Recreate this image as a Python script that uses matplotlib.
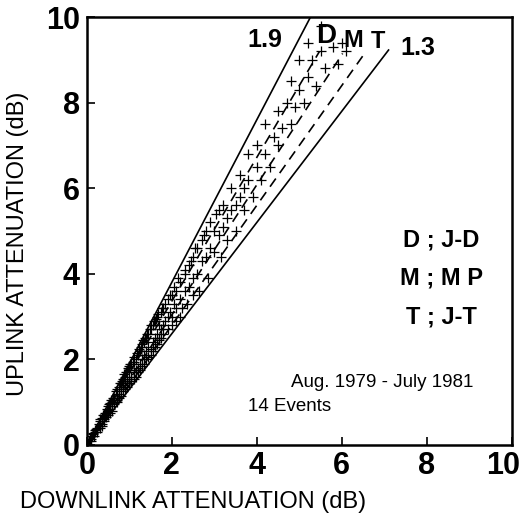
import numpy as np
import matplotlib.pyplot as plt
from matplotlib.transforms import ScaledTranslation

# downlink / uplink attenuation samples (dB)
down = [0.05, 0.1, 0.12, 0.15, 0.2, 0.22, 0.25, 0.3, 0.3, 0.35, 0.35, 0.4, 0.4, 0.45, 0.5, 0.5,
        0.55, 0.55, 0.6, 0.6, 0.65, 0.7, 0.7, 0.75, 0.75, 0.8, 0.8, 0.85, 0.85, 0.9, 0.9, 0.95,
        0.95, 1.0, 1.0, 1.0, 1.05, 1.05, 1.1, 1.1, 1.15, 1.15, 1.2, 1.2, 1.25, 1.25, 1.3, 1.3,
        1.35, 1.35, 1.4, 1.4, 1.45, 1.45, 1.5, 1.5, 1.55, 1.55, 1.6, 1.6, 1.65, 1.65, 1.7, 1.7,
        1.75, 1.75, 1.8, 1.8, 1.85, 1.9, 1.9, 1.95, 2.0, 2.0, 2.05, 2.1, 2.1, 2.2, 2.2, 2.25,
        2.3, 2.3, 2.4, 2.4, 2.5, 2.5, 2.6, 2.6, 2.7, 2.7, 2.8, 2.8, 2.9, 2.9, 3.0, 3.0,
        3.05, 3.1, 3.2, 3.2, 3.3, 3.3, 3.4, 3.4, 3.5, 3.5, 3.6, 3.6, 3.7, 3.7, 3.8, 3.8,
        3.9, 4.0, 4.0, 4.1, 4.2, 4.2, 4.3, 4.4, 4.5, 4.5, 4.6, 4.7, 4.8, 4.8, 4.9, 5.0,
        5.0, 5.1, 5.2, 5.2, 5.3, 5.4, 5.5, 5.5, 5.6, 5.8, 5.9, 6.0, 6.1,
        0.08, 0.1, 0.15, 0.18, 0.2, 0.25, 0.28, 0.3, 0.32, 0.35, 0.38, 0.4, 0.42, 0.45, 0.48,
        0.5, 0.52, 0.55, 0.58, 0.6, 0.62, 0.65, 0.68, 0.7, 0.72, 0.75, 0.78, 0.8, 0.82, 0.85,
        0.88, 0.9, 0.92, 0.95, 0.98, 1.0, 1.02, 1.05, 1.08, 1.1, 1.12, 1.15, 1.18, 1.2, 1.22,
        1.25, 1.28, 1.3, 1.32, 1.35, 1.38, 1.4, 1.42, 1.45, 1.48, 1.5, 1.52, 1.55, 1.58, 1.6,
        1.62, 1.65, 1.68, 1.7, 1.75, 1.78, 1.8, 1.85, 1.9, 1.95, 2.0, 2.05, 2.1, 2.15, 2.2,
        2.3, 2.35, 2.45, 2.5, 2.55, 2.65, 2.75, 2.85, 3.1, 3.15]
up = [0.1, 0.15, 0.22, 0.25, 0.3, 0.38, 0.4, 0.45, 0.55, 0.5, 0.62, 0.6, 0.7, 0.75, 0.8, 0.9,
      0.85, 0.98, 1.0, 0.9, 1.1, 1.05, 1.2, 1.2, 1.35, 1.3, 1.45, 1.4, 1.55, 1.4, 1.6, 1.5,
      1.7, 1.55, 1.75, 1.85, 1.6, 1.9, 1.7, 1.95, 1.75, 2.0, 1.8, 2.1, 1.9, 2.2, 2.0, 2.35,
      2.1, 2.4, 2.2, 2.5, 2.3, 2.6, 2.25, 2.7, 2.4, 2.8, 2.5, 2.9, 2.6, 3.0, 2.5, 2.8,
      2.7, 3.1, 2.8, 3.2, 2.9, 3.0, 3.4, 3.1, 3.0, 3.5, 3.3, 3.2, 3.6, 3.4, 3.8, 3.2,
      3.6, 4.0, 3.7, 4.2, 3.9, 4.4, 4.0, 4.6, 4.3, 4.8, 4.4, 5.0, 4.6, 5.2, 4.5, 5.0,
      5.4, 4.9, 5.1, 5.6, 5.3, 4.8, 5.5, 6.0, 5.6, 5.0, 5.8, 6.3, 5.5, 6.0, 6.2, 6.8,
      5.8, 6.5, 7.0, 6.2, 6.8, 7.5, 6.5, 7.2, 7.0, 7.8, 7.4, 8.0, 7.5, 8.5, 7.9, 8.3,
      9.0, 8.0, 8.6, 9.4, 9.0, 8.4, 9.2, 9.8, 8.8, 9.3, 8.9, 9.4, 9.2,
      0.14, 0.1, 0.27, 0.2, 0.36, 0.3, 0.5, 0.4, 0.6, 0.45, 0.7, 0.55, 0.75, 0.65, 0.85,
      0.7, 0.95, 0.75, 1.05, 0.8, 1.1, 0.95, 1.25, 1.0, 1.3, 1.1, 1.45, 1.15, 1.5, 1.25,
      1.65, 1.3, 1.7, 1.35, 1.8, 1.45, 1.9, 1.5, 1.95, 1.55, 2.05, 1.6, 2.15, 1.7, 2.25,
      1.75, 2.3, 1.85, 2.45, 1.9, 2.5, 2.0, 2.6, 2.05, 2.7, 2.1, 2.8, 2.2, 2.9, 2.3,
      2.95, 2.35, 3.05, 2.45, 2.5, 3.2, 2.6, 3.3, 2.7, 3.5, 2.8, 3.7, 2.9, 3.9, 3.0,
      4.1, 3.3, 4.3, 3.5, 4.6, 3.6, 4.9, 3.9, 5.5, 4.4]

# ratio lines: solid bounds and dashed model curves (D, M, T)
solid_slopes = [1.9, 1.3]
solid_xmax = [10 / 1.9, 7.1]
dashed_slopes = [1.68, 1.52, 1.40]
dashed_ymax = [9.2, 9.15, 9.1]

legend_lines = ["D ; J-D", "M ; M P", "T ; J-T"]

fig = plt.figure(figsize=(5.26, 5.18), dpi=100)
ax = fig.add_axes([0.165, 0.141, 0.808, 0.826])

for s, xm in zip(solid_slopes, solid_xmax):
    xs = np.array([0, xm])
    ax.plot(xs, s * xs, color='black', lw=1.2)
for s, ym in zip(dashed_slopes, dashed_ymax):
    xs = np.array([0, ym / s])
    ax.plot(xs, s * xs, color='black', lw=1.2, dashes=(6, 4))

ax.scatter(down, up, marker='+', s=45, color='black', linewidths=0.9)

ax.set_xlim(0, 10)
ax.set_ylim(0, 10)
ax.set_xticks([0, 2, 4, 6, 8, 10])
ax.set_yticks([0, 2, 4, 6, 8, 10])
ax.tick_params(direction='in', length=6, width=1.2, labelsize=22)
ax.tick_params(axis='x', pad=4)
ax.tick_params(axis='y', pad=5)
for lab in ax.get_xticklabels() + ax.get_yticklabels():
    lab.set_fontweight('bold')
    lab.set_family('Liberation Sans')
# the last x label sits against the right edge in the original
last = ax.get_xticklabels()[-1]
last.set_transform(last.get_transform() + ScaledTranslation(-6 / 72, 0, fig.dpi_scale_trans))
for sp in ax.spines.values():
    sp.set_linewidth(1.8)

ax.set_xlabel('DOWNLINK ATTENUATION (dB)', fontsize=17, family='Liberation Sans')
ax.set_ylabel('UPLINK ATTENUATION (dB)', fontsize=17, family='Liberation Sans')
ax.xaxis.set_label_coords(0.25, -0.108)
ax.yaxis.set_label_coords(-0.136, 0.47)

ax.text(4.19, 9.46, '1.9', fontsize=18, fontweight='bold', family='Liberation Sans',
        ha='center', va='center')
ax.text(7.79, 9.28, '1.3', fontsize=18, fontweight='bold', family='Liberation Sans',
        ha='center', va='center')
ax.text(5.62, 9.55, 'D', fontsize=20, fontweight='bold', family='Liberation Sans',
        ha='center', va='center')
ax.text(6.28, 9.46, 'M', fontsize=17, fontweight='bold', family='Liberation Sans',
        ha='center', va='center')
ax.text(6.85, 9.42, 'T', fontsize=17, fontweight='bold', family='Liberation Sans',
        ha='center', va='center')

for i, t in enumerate(legend_lines):
    ax.text(8.35, 4.8 - 0.9 * i, t, fontsize=17, fontweight='bold', family='Liberation Sans',
            ha='center', va='center')

ax.text(6.94, 1.45, 'Aug. 1979 - July 1981', fontsize=13.5, family='Liberation Sans',
        ha='center', va='center')
ax.text(3.8, 0.91, '14 Events', fontsize=13.5, family='Liberation Sans', ha='left', va='center')

fig.savefig('out.png', dpi=100)
